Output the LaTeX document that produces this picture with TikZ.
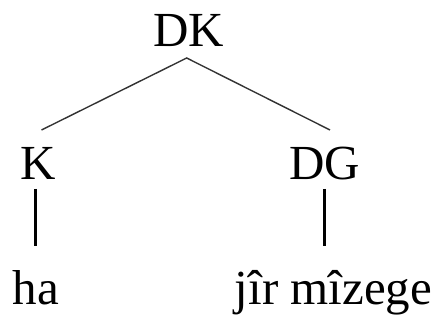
\documentclass[tikz,border=0pt]{standalone}
\usepackage{fontspec}
\setmainfont{Liberation Serif}
\begin{document}
\begin{tikzpicture}[x=1pt,y=1pt,
  lbl/.style={anchor=base,inner sep=0pt,font=\fontsize{49}{55}\selectfont},
  branch/.style={line width=1.4pt,black!80},
  stem/.style={line width=3pt,black}]
\useasboundingbox (0,0) rectangle (448,-320);
\node[lbl] (DK) at (189,-47) {DK};
\node[lbl] (K) at (38.5,-180) {K};
\node[lbl] (DG) at (325,-180) {DG};
\node[lbl] (ha) at (36,-305) {ha};
\node[lbl] (jm) at (333.5,-305) {jîr mîzege};
\draw[branch] ([shift={(3,50)}]K.base) -- ([shift={(-2.3,-11)}]DK.base) -- ([shift={(5,50)}]DG.base);
\draw[stem] ([shift={(-3.5,-9)}]K.base) -- ([shift={(-1,59)}]ha.base);
\draw[stem] ([shift={(-1,-9)}]DG.base) -- ([shift={(-9.5,59)}]jm.base);
\end{tikzpicture}
\end{document}
